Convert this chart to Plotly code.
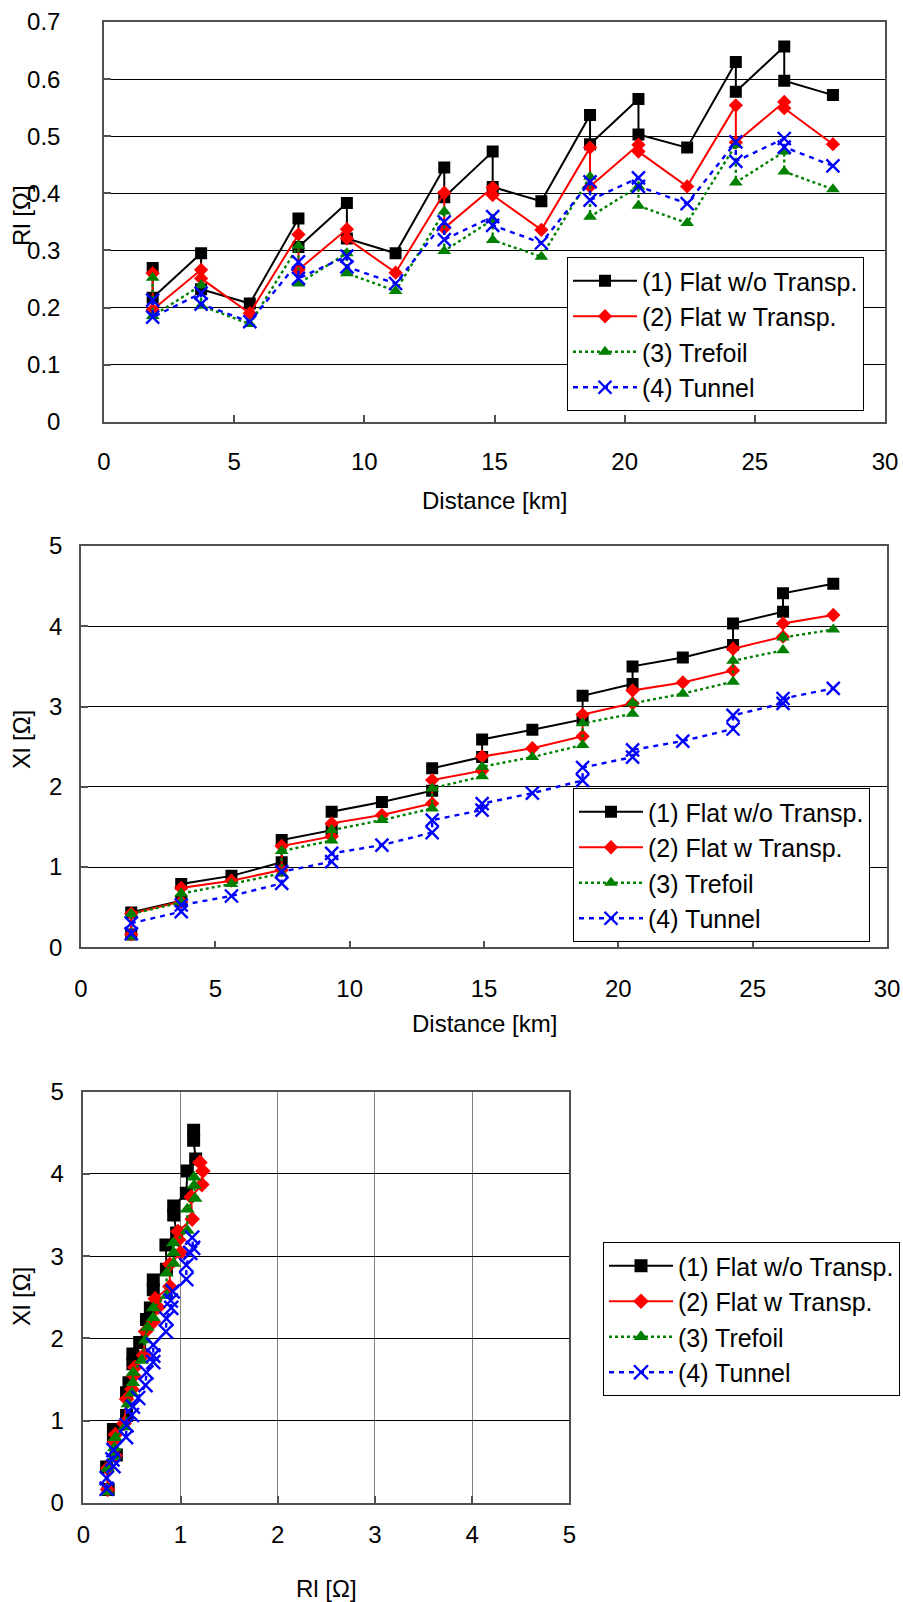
import plotly.graph_objects as go

W, H = 903, 1602
FONT = "Liberation Sans, Arial, sans-serif"

# ---------------- data ----------------
distance_km = [1.87, 1.87, 3.73, 3.73, 5.6, 7.47, 7.47, 9.33, 9.33, 11.2,
               13.07, 13.07, 14.93, 14.93, 16.8, 18.67, 18.67, 20.53, 20.53, 22.4,
               24.27, 24.27, 26.13, 26.13, 28.0]

series_names = ["(1) Flat w/o Transp.", "(2) Flat w Transp.", "(3) Trefoil", "(4) Tunnel"]

# Rl [Ohm] vs distance
rl_flat_wo = [0.269, 0.217, 0.295, 0.232, 0.207, 0.356, 0.306, 0.383, 0.321, 0.295,
              0.445, 0.393, 0.473, 0.411, 0.386, 0.537, 0.486, 0.565, 0.503, 0.480,
              0.630, 0.578, 0.657, 0.597, 0.572]
rl_flat_w = [0.260, 0.196, 0.266, 0.251, 0.190, 0.328, 0.266, 0.337, 0.321, 0.261,
             0.401, 0.339, 0.410, 0.397, 0.336, 0.480, 0.412, 0.485, 0.473, 0.412,
             0.554, 0.489, 0.560, 0.549, 0.486]
rl_trefoil = [0.252, 0.185, 0.239, 0.203, 0.171, 0.308, 0.242, 0.295, 0.260, 0.229,
              0.368, 0.299, 0.354, 0.318, 0.289, 0.429, 0.359, 0.412, 0.378, 0.348,
              0.485, 0.419, 0.473, 0.438, 0.407]
rl_tunnel = [0.213, 0.183, 0.225, 0.206, 0.175, 0.280, 0.251, 0.290, 0.271, 0.242,
             0.350, 0.319, 0.359, 0.344, 0.313, 0.420, 0.388, 0.427, 0.412, 0.382,
             0.490, 0.456, 0.496, 0.481, 0.448]

# Xl [Ohm] vs distance
xl_flat_wo = [0.16, 0.435, 0.58, 0.79, 0.89, 1.06, 1.337, 1.46, 1.69, 1.81,
              1.95, 2.23, 2.37, 2.59, 2.71, 2.84, 3.134, 3.28, 3.50, 3.61,
              3.765, 4.035, 4.18, 4.41, 4.53]
xl_flat_w = [0.16, 0.42, 0.57, 0.74, 0.83, 0.963, 1.262, 1.38, 1.544, 1.648,
             1.793, 2.084, 2.20, 2.378, 2.48, 2.63, 2.90, 3.04, 3.20, 3.30,
             3.45, 3.72, 3.87, 4.035, 4.14]
xl_trefoil = [0.13, 0.415, 0.56, 0.67, 0.79, 0.92, 1.20, 1.33, 1.46, 1.585,
              1.73, 1.98, 2.13, 2.25, 2.37, 2.52, 2.79, 2.91, 3.04, 3.16,
              3.31, 3.57, 3.70, 3.86, 3.96]
xl_tunnel = [0.17, 0.30, 0.444, 0.527, 0.639, 0.797, 0.942, 1.067, 1.17, 1.274,
             1.43, 1.585, 1.71, 1.79, 1.92, 2.08, 2.24, 2.37, 2.46, 2.57,
             2.72, 2.89, 3.04, 3.10, 3.225]

# Rl values of the Rl-Xl plot (bottom chart)
rx_flat_wo = [0.256, 0.24, 0.34, 0.31, 0.31, 0.445, 0.445, 0.47, 0.51, 0.51,
              0.58, 0.65, 0.69, 0.72, 0.72, 0.855, 0.85, 0.96, 0.93, 0.93,
              1.06, 1.07, 1.156, 1.135, 1.135]
rx_flat_w = [0.25, 0.25, 0.33, 0.32, 0.33, 0.42, 0.445, 0.50, 0.52, 0.53,
             0.62, 0.64, 0.72, 0.77, 0.74, 0.89, 0.89, 1.00, 0.98, 0.975,
             1.12, 1.11, 1.22, 1.23, 1.20]
rx_trefoil = [0.25, 0.25, 0.32, 0.32, 0.33, 0.43, 0.46, 0.50, 0.51, 0.513,
              0.60, 0.64, 0.66, 0.72, 0.72, 0.86, 0.855, 0.93, 0.93, 0.925,
              1.07, 1.07, 1.15, 1.14, 1.14]
rx_tunnel = [0.24, 0.24, 0.31, 0.30, 0.31, 0.44, 0.445, 0.50, 0.51, 0.565,
             0.64, 0.65, 0.72, 0.72, 0.72, 0.85, 0.855, 0.905, 0.90, 0.92,
             1.06, 1.06, 1.10, 1.13, 1.12]

rl_sets = [rl_flat_wo, rl_flat_w, rl_trefoil, rl_tunnel]
xl_sets = [xl_flat_wo, xl_flat_w, xl_trefoil, xl_tunnel]
rx_sets = [rx_flat_wo, rx_flat_w, rx_trefoil, rx_tunnel]

# ---------------- styles ----------------
styles = [
    dict(color="#000000", dash="solid", symbol="square", size=12, lw=2),
    dict(color="#FF0000", dash="solid", symbol="diamond", size=11, lw=2),
    dict(color="#008000", dash="3px,3px", symbol="triangle-up", size=12, lw=2.4),
    dict(color="#0000FF", dash="5px,5px", symbol="x-thin", size=13, lw=2.4),
]


def marker(st, size):
    m = dict(symbol=st["symbol"], size=size, color=st["color"])
    if st["symbol"] == "x-thin":
        m["line"] = dict(color=st["color"], width=2.4)
    return m


fig = go.Figure()
panels = [
    ("x", "y", "legend", distance_km, rl_sets, None),
    ("x2", "y2", "legend2", distance_km, xl_sets, None),
    ("x3", "y3", "legend3", None, xl_sets, rx_sets),
]
for xa, ya, lg, xs, ysets, rsets in panels:
    for i, st in enumerate(styles):
        xvals = xs if rsets is None else rsets[i]
        fig.add_trace(go.Scatter(
            x=xvals, y=ysets[i], xaxis=xa, yaxis=ya, legend=lg,
            name=series_names[i], mode="lines+markers",
            line=dict(color=st["color"], width=st["lw"], dash=st["dash"]),
            marker=marker(st, st["size"] if rsets is None else st["size"] + 1),
        ))


def py(px):
    return 1 - px / H


def dom_x(a, b):
    return [a / W, b / W]


def dom_y(top, bottom):
    return [py(bottom), py(top)]


tickfont = dict(family=FONT, size=24, color="#000")
axis_common = dict(
    showline=True, linecolor="#505050", linewidth=1.5, mirror=True,
    ticks="inside", ticklen=7, tickwidth=1.5, tickcolor="#505050",
    tickfont=tickfont, zeroline=False, automargin=False,
)

legend_common = dict(
    bgcolor="#FFFFFF", bordercolor="#000000", borderwidth=1,
    font=dict(family=FONT, size=25, color="#000"),
    xanchor="left", yanchor="top", itemwidth=64,
    tracegroupgap=0,
)

fig.update_layout(
    width=W, height=H, autosize=False,
    margin=dict(l=0, r=0, t=0, b=0, autoexpand=False),
    paper_bgcolor="#FFFFFF", plot_bgcolor="#FFFFFF",
    font=dict(family=FONT, size=24, color="#000"),
    showlegend=True,
    xaxis=dict(domain=dom_x(104, 885), anchor="y", range=[0, 30], dtick=5,
               showgrid=False, ticklabelstandoff=18, **axis_common),
    yaxis=dict(domain=dom_y(22, 421.7), anchor="x", range=[0, 0.7], dtick=0.1,
               showgrid=True, gridcolor="#000", gridwidth=1,
               ticklabelstandoff=37, **axis_common),
    xaxis2=dict(domain=dom_x(81, 887), anchor="y2", range=[0, 30], dtick=5,
                showgrid=False, ticklabelstandoff=19, **axis_common),
    yaxis2=dict(domain=dom_y(546, 947.3), anchor="x2", range=[0, 5], dtick=1,
                showgrid=True, gridcolor="#000", gridwidth=1,
                ticklabelstandoff=12, **axis_common),
    xaxis3=dict(domain=dom_x(83.3, 569.3), anchor="y3", range=[0, 5], dtick=1,
                showgrid=True, gridcolor="#808080", gridwidth=1,
                ticklabelstandoff=10, **axis_common),
    yaxis3=dict(domain=dom_y(1091.7, 1502.7), anchor="x3", range=[0, 5], dtick=1,
                showgrid=True, gridcolor="#000", gridwidth=1,
                ticklabelstandoff=13, **axis_common),
    legend=dict(x=567 / W, y=py(257), **legend_common),
    legend2=dict(x=573 / W, y=py(788), **legend_common),
    legend3=dict(x=603 / W, y=py(1242), **legend_common),
)

title_font = dict(family=FONT, size=24, color="#000")
titles = [
    ("Rl [Ω]", 21, 216, -90),
    ("Distance [km]", 494.5, 500.5, 0),
    ("Xl [Ω]", 21, 740, -90),
    ("Distance [km]", 484, 1023.5, 0),
    ("Xl [Ω]", 21, 1297, -90),
    ("Rl [Ω]", 326, 1588.5, 0),
]
for text, x, y, ang in titles:
    fig.add_annotation(text=text, x=x / W, y=py(y), xref="paper", yref="paper",
                       showarrow=False, textangle=ang, font=title_font,
                       xanchor="center", yanchor="middle")

fig.write_html(
    "out.html",
    config={"displayModeBar": False},
    post_script="document.body.style.margin='0';document.body.style.padding='0';"
                "document.documentElement.style.overflow='hidden';",
)
